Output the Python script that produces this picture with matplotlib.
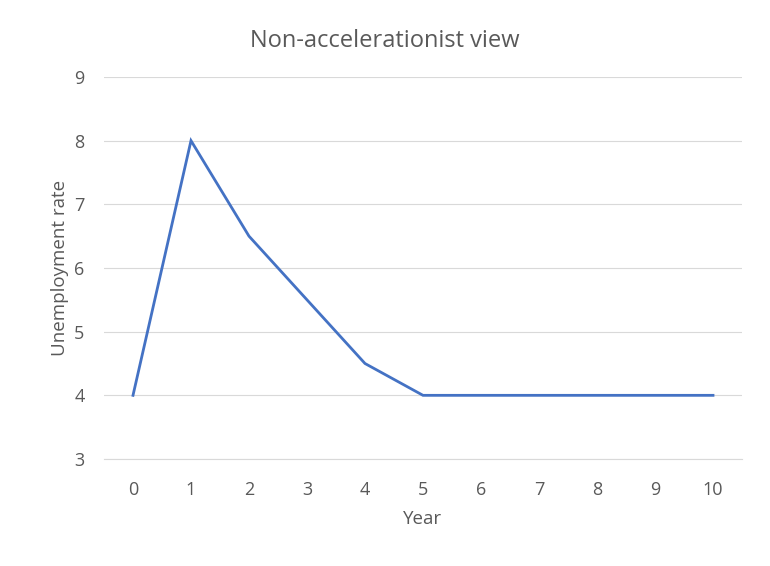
import matplotlib.pyplot as plt

# data
years = list(range(11))
unemployment = [4, 8, 6.5, 5.5, 4.5, 4, 4, 4, 4, 4, 4]
y_ticks = [3, 4, 5, 6, 7, 8, 9]

plt.rcParams['font.family'] = ['Open Sans', 'DejaVu Sans']
grey = '#595959'

fig = plt.figure(figsize=(7.7, 5.66), dpi=100)
ax = fig.add_axes([104 / 770, 1 - 459 / 566, (742 - 104) / 770, (459 - 77) / 566])

ax.plot(years, unemployment, color='#4472C4', linewidth=2.0, solid_joinstyle='miter')

ax.set_xlim(-0.5, 10.5)
ax.set_ylim(3, 9)
ax.set_xticks(years)
ax.set_yticks(y_ticks)
ax.grid(axis='y', color='#D9D9D9', linewidth=0.8)
ax.set_axisbelow(True)
for s in ['top', 'right', 'left']:
    ax.spines[s].set_visible(False)
ax.spines['bottom'].set_color('#D9D9D9')
ax.spines['bottom'].set_linewidth(0.8)
ax.tick_params(length=0, labelsize=13, labelcolor=grey)
ax.tick_params(axis='x', pad=16)
ax.tick_params(axis='y', pad=14)

ax.set_xlabel('Year', fontsize=13.5, color=grey, labelpad=8)
ax.set_ylabel('Unemployment rate', fontsize=13.5, color=grey, labelpad=4)
fig.text(0.5, 1 - 41 / 566, 'Non-accelerationist view', ha='center', va='center',
         fontsize=17, color=grey)

fig.savefig('out.png', dpi=100)
